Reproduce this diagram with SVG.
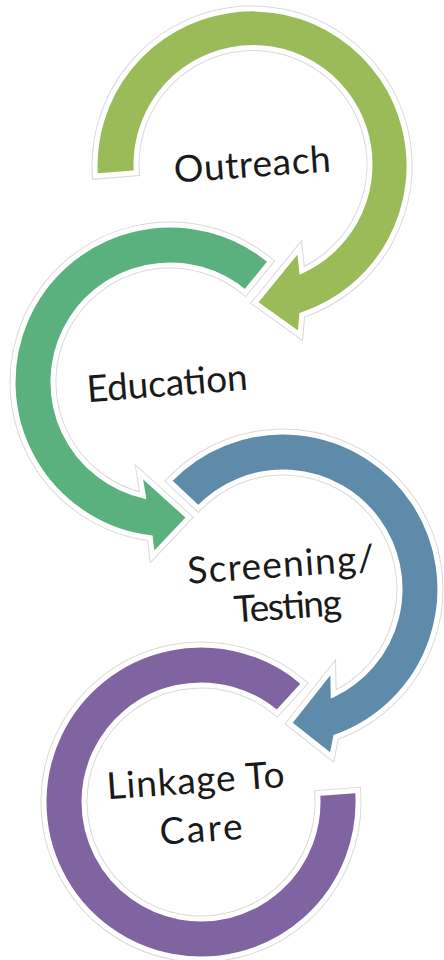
<svg xmlns="http://www.w3.org/2000/svg" width="444" height="960" viewBox="0 0 444 960">
<style>
.halo{fill:none;stroke:#dadada;stroke-width:7;stroke-linejoin:miter}
.shape{stroke:#ffffff;stroke-width:5;stroke-linejoin:miter}
.lbl{font-family:"Lato","Liberation Sans",sans-serif;font-weight:400;font-size:37px;fill:#1a1a1a;text-anchor:middle}
</style>
<rect width="444" height="960" fill="#ffffff"/>
<g id="outreach">
<path class="halo" d="M95.4,176.1 A157,157 0 1 1 301.8,314.8 L300,335 L255,302.7 L299.3,248.3 L301.7,270.9 A117,117 0 1 0 136.3,172.7 Z"/>
<path class="shape" fill="#9BBB59" d="M95.4,176.1 A157,157 0 1 1 301.8,314.8 L300,335 L255,302.7 L299.3,248.3 L301.7,270.9 A117,117 0 1 0 136.3,172.7 Z"/>
<text class="lbl" x="253" y="177" textLength="157" lengthAdjust="spacing" transform="rotate(-4 253 177)">Outreach</text>
</g>
<g id="education">
<path class="halo" d="M270.5,261.4 A157,157 0 1 0 150.3,537.8 L152.5,556 L189,517.5 L139.5,472.7 L143.3,495.9 A117,117 0 1 1 245.2,292.4 Z"/>
<path class="shape" fill="#5BB17E" d="M270.5,261.4 A157,157 0 1 0 150.3,537.8 L152.5,556 L189,517.5 L139.5,472.7 L143.3,495.9 A117,117 0 1 1 245.2,292.4 Z"/>
<text class="lbl" x="168" y="396" textLength="161" lengthAdjust="spacing" transform="rotate(-4.5 168 396)">Education</text>
</g>
<g id="screening">
<path class="halo" d="M169.1,480.9 A157,157 0 1 1 335.7,736.9 L331.7,756.7 L289.3,723.3 L332.7,668.3 L333.2,694.7 A117,117 0 1 0 198.3,508.3 Z"/>
<path class="shape" fill="#5F8BAB" d="M169.1,480.9 A157,157 0 1 1 335.7,736.9 L331.7,756.7 L289.3,723.3 L332.7,668.3 L333.2,694.7 A117,117 0 1 0 198.3,508.3 Z"/>
<text class="lbl" transform="rotate(-4 285 597)"><tspan x="283" y="577" textLength="187" lengthAdjust="spacing">Screening/</tspan><tspan x="287" y="619" textLength="108" lengthAdjust="spacing">Testing</tspan></text>
</g>
<g id="linkage">
<path class="halo" d="M304,683.5 A157,157 0 1 0 357.6,790.5 L317.7,793.4 A117,117 0 1 1 277,713 Z"/>
<path class="shape" fill="#8064A2" d="M304,683.5 A157,157 0 1 0 357.6,790.5 L317.7,793.4 A117,117 0 1 1 277,713 Z"/>
<text class="lbl" transform="rotate(-4 199 816)"><tspan x="198" y="793" textLength="178" lengthAdjust="spacing">Linkage To</tspan><tspan x="200" y="842" textLength="83" lengthAdjust="spacing">Care</tspan></text>
</g>
<g id="connectors"></g>
</svg>
